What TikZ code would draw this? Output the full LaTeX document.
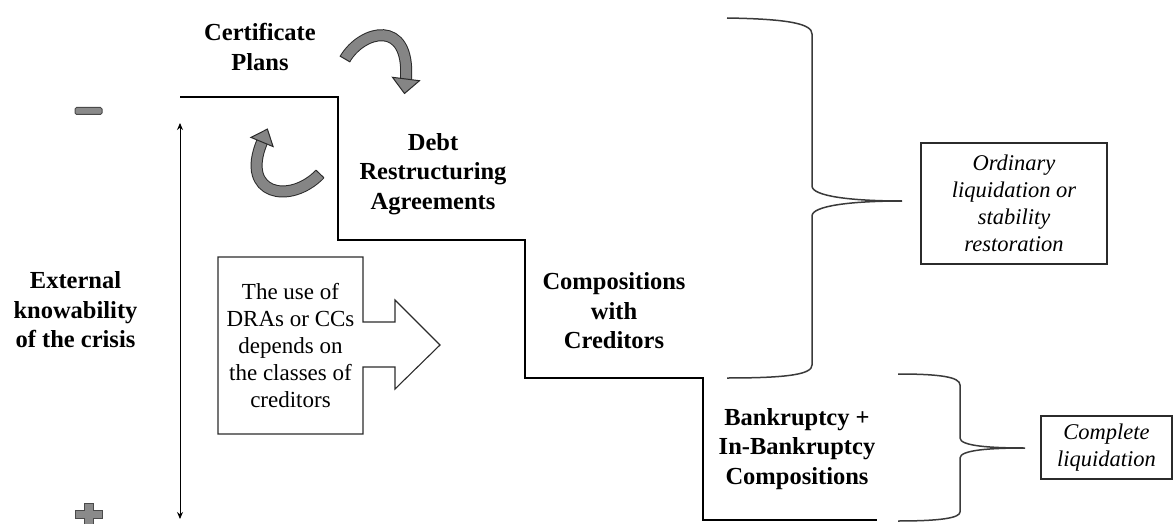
\documentclass[tikz,border=0pt]{standalone}
\usepackage{fontspec}
\setmainfont{Liberation Serif}
\usetikzlibrary{arrows.meta}
\definecolor{ink}{HTML}{2B2B2B}
\definecolor{bracecol}{HTML}{3A3A3A}
\definecolor{arrowfill}{HTML}{858585}
\definecolor{arrowedge}{HTML}{2A2A2A}
\definecolor{signfill}{HTML}{8A8A8A}
\definecolor{signedge}{HTML}{4A4A4A}
\tikzset{
  stage/.style={font=\fontsize{24.5}{29.5}\selectfont\bfseries, align=center, inner sep=0pt, text=black},
  notetext/.style={font=\fontsize{23}{27}\selectfont, align=center, inner sep=0pt},
  outcome/.style={draw=ink, line width=1.1pt, font=\fontsize{22.5}{27}\selectfont\itshape, align=center, inner sep=0pt},
  stair/.style={draw=black, line width=1.2pt},
  bracket/.style={draw=bracecol, line width=1.5pt},
  signshape/.style={fill=signfill, draw=signedge, line width=1pt},
  bend body outer/.style={draw=arrowedge, line width=12pt},
  bend body inner/.style={draw=arrowfill, line width=10pt},
  bend head/.style={fill=arrowfill, draw=arrowedge, line width=1pt, line join=miter},
}
\begin{document}
\begin{tikzpicture}[x=1pt, y=-1pt]
\useasboundingbox (0,0) rectangle (1173,524);

% stage labels
\node[stage] (cert) at (260,47) {Certificate\\Plans};
\node[stage] (dra) at (433,174) {Debt\\Restructuring\\Agreements};
\node[stage] (cc) at (614,311) {Compositions\\with\\Creditors};
\node[stage] (bk) at (797,449) {Bankruptcy +\\In-Bankruptcy\\Compositions};
\node[stage] (ext) at (75.5,310) {External\\knowability\\of the crisis};

% staircase separating the stages
\coordinate (s0) at (180,97);
\coordinate (s1) at (338,97);
\coordinate (s2) at (338,240);
\coordinate (s3) at (525,240);
\coordinate (s4) at (525,378);
\coordinate (s5) at (703,378);
\coordinate (s6) at (703,520);
\coordinate (s7) at (877,520);
\draw[stair] (s0) -- (s1) -- (s2) -- (s3) -- (s4) -- (s5) -- (s6) -- (s7);

% knowability axis
\coordinate (axtop) at (180,123);
\coordinate (axbot) at (180,519);
\draw[line width=1pt, {Stealth[length=7pt,width=6pt]}-{Stealth[length=7pt,width=6pt]}] (axtop) -- (axbot);

% minus and plus signs
\node[signshape, rounded corners=1.5pt, minimum width=27pt, minimum height=7pt, inner sep=0pt] (minus) at (88.5,111) {};
\draw[signshape] (84,503) -- (93,503) -- (93,510) -- (102,510) -- (102,518) -- (93,518) -- (93,526) -- (84,526) -- (84,518) -- (75,518) -- (75,510) -- (84,510) -- cycle;

% curved arrow from the certificate plans downwards
\draw[bend body outer] (345,59) .. controls (362,30) and (410,18) .. (406,79);
\draw[bend body inner] (345,59) .. controls (362,30) and (410,18) .. (406,79);
\draw[arrowedge, line width=1pt] (339.8,56) -- (350.2,62);
\draw[bend head] (392.5,77.3) -- (419.5,80.7) -- (404.5,93.5) -- cycle;

% curved arrow pointing back upwards
\draw[bend body outer] (320,174) .. controls (290,205) and (240,195) .. (262,142);
\draw[bend body inner] (320,174) .. controls (290,205) and (240,195) .. (262,142);
\draw[arrowedge, line width=1pt] (316.1,170.2) -- (323.9,177.8);
\draw[bend head] (250.9,137.4) -- (273.1,146.6) -- (267.4,129.1) -- cycle;

% note box with arrow
\node[notetext] (use) at (290.5,346) {The use of\\DRAs or CCs\\depends on\\the classes of\\creditors};
\draw[draw=ink, line width=1.1pt, line join=miter]
  (218,257) -- (363,257) -- (363,322) -- (395,322) -- (395,300) -- (440,345)
  -- (395,389) -- (395,367) -- (363,367) -- (363,434) -- (218,434) -- cycle;

% braces
\draw[bracket] (727,18) .. controls (790,19) and (812,24) .. (812,34) -- (812,186)
  .. controls (812,196) and (850,201) .. (902,201)
  .. controls (850,201) and (812,206) .. (812,216) -- (812,365)
  .. controls (812,374) and (790,378) .. (727,378);
\draw[bracket] (898,374) .. controls (940,374) and (960,377) .. (960,385) -- (960,438)
  .. controls (960,446) and (990,448) .. (1025,448)
  .. controls (990,448) and (960,450) .. (960,458) -- (960,512)
  .. controls (960,518) and (940,521) .. (898,521);

% outcomes
\node[outcome, minimum width=186pt, minimum height=121pt] (ord) at (1014,203.5) {Ordinary\\liquidation or\\stability\\restoration};
\node[outcome, minimum width=131pt, minimum height=63pt] (comp) at (1106.5,447.5) {Complete\\liquidation};
\end{tikzpicture}
\end{document}
